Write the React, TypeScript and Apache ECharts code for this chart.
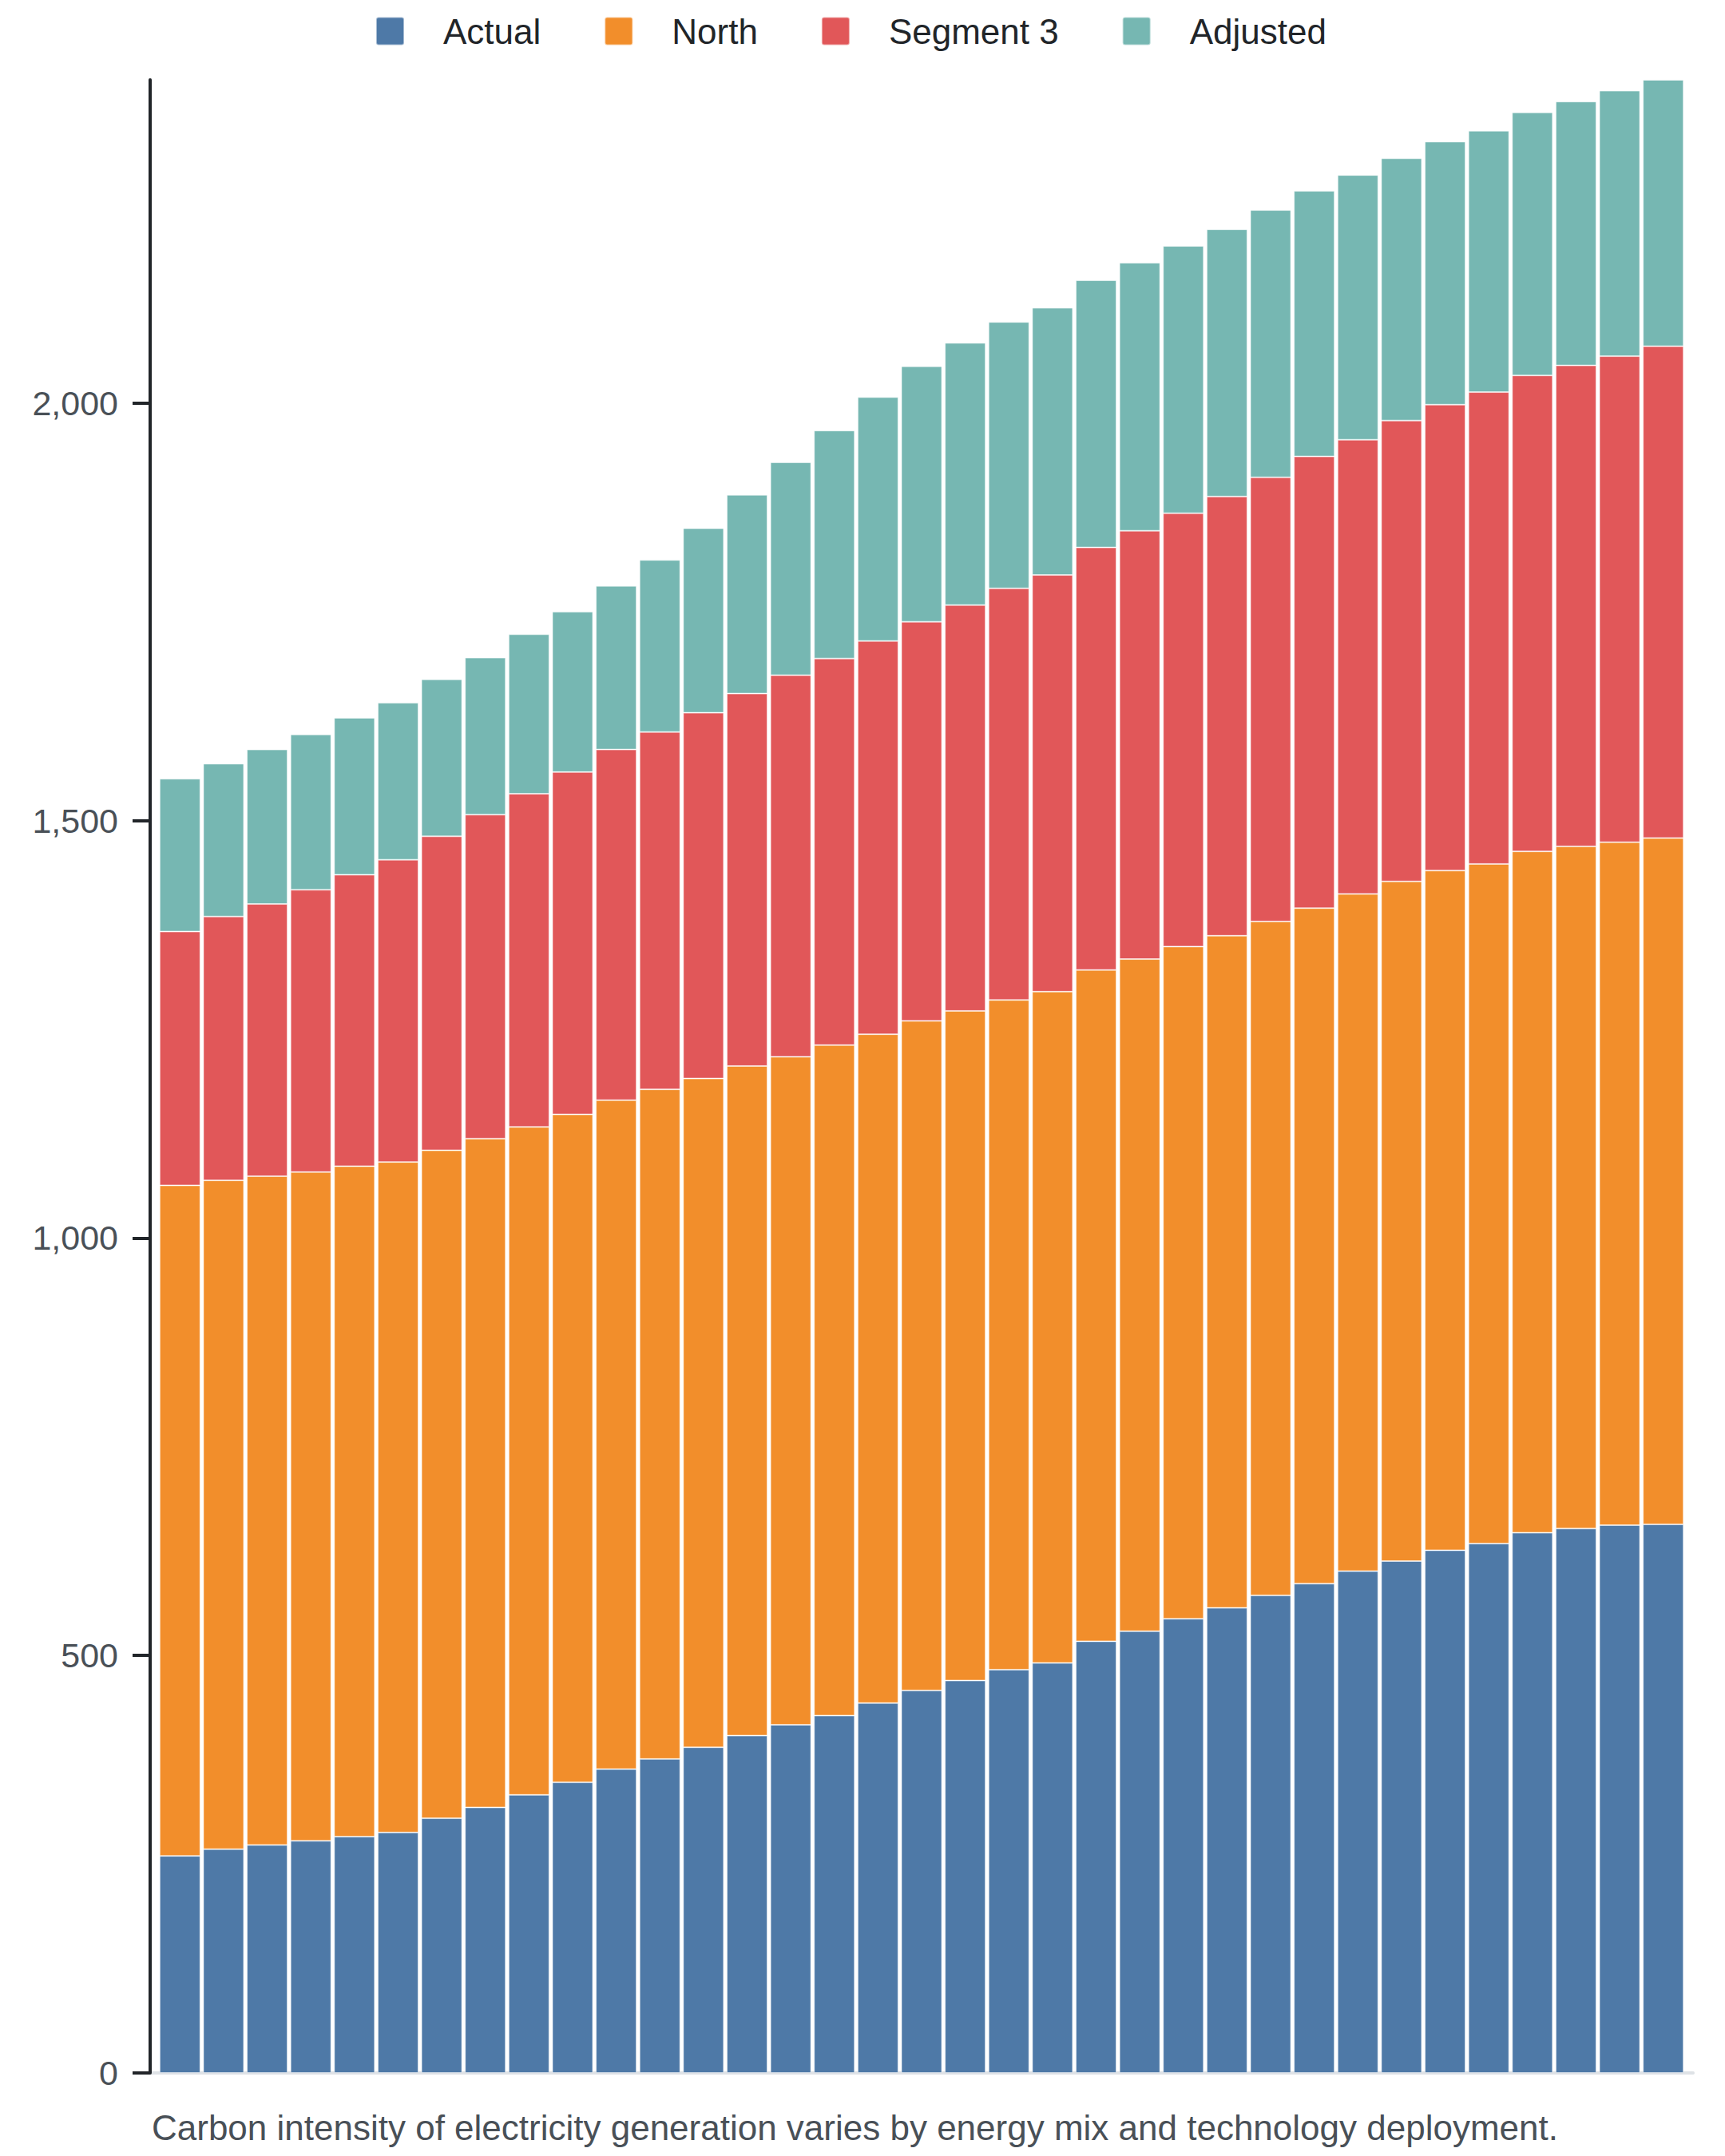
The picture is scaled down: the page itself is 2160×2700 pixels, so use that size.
import React, { useEffect, useRef } from "react";
import * as echarts from "echarts";

const categories: string[] = Array.from({ length: 35 }, (_, i) => `P${i + 1}`);

const actual = [260, 268, 273, 278, 283, 288, 305, 318, 333, 348, 364, 376, 390, 404, 417, 428, 443, 458, 470, 483, 491, 517, 529, 544, 557, 572, 586, 601, 613, 626, 634, 647, 652, 656, 657];
const north = [803, 801, 801, 801, 803, 803, 800, 801, 800, 800, 801, 802, 801, 802, 800, 803, 801, 802, 802, 802, 804, 804, 805, 805, 805, 807, 809, 811, 814, 814, 814, 816, 817, 818, 822];
const segment3 = [304, 316, 326, 338, 349, 362, 376, 388, 399, 410, 420, 428, 438, 446, 457, 463, 471, 478, 486, 493, 499, 506, 513, 519, 526, 532, 541, 544, 552, 558, 565, 570, 576, 582, 589];
const adjusted = [183, 183, 185, 186, 188, 188, 188, 188, 191, 192, 196, 206, 221, 238, 255, 273, 292, 306, 314, 319, 320, 320, 321, 320, 320, 320, 318, 317, 314, 315, 313, 315, 316, 318, 319];

const seriesNames = ["Actual", "North", "Segment 3", "Adjusted"];
const seriesColors = ["#4e79a7", "#f28e2b", "#e15759", "#76b7b2"];
const yTicks = [0, 500, 1000, 1500, 2000];
const caption = "Carbon intensity of electricity generation varies by energy mix and technology deployment.";

const FONT = "'Liberation Sans', Arial, Helvetica, sans-serif";
const ICON = "path://M3,0 H32 Q35,0 35,3 V32 Q35,35 32,35 H3 Q0,35 0,32 V3 Q0,0 3,0 Z";

export default function App() {
  const ref = useRef<HTMLDivElement>(null);
  useEffect(() => {
    document.body.style.margin = "0";
    if (!ref.current) return;
    const chart = echarts.init(ref.current, undefined, { renderer: "svg" });
    const values = [actual, north, segment3, adjusted];
    chart.setOption({
      animation: false,
      textStyle: { fontFamily: FONT },
      title: {
        text: caption,
        left: 185,
        top: 2637,
        textStyle: { fontFamily: FONT, fontSize: 44, fontWeight: "normal", color: "#495057" },
      },
      legend: {
        top: 12,
        left: 465,
        icon: ICON,
        itemWidth: 35,
        itemHeight: 35,
        itemGap: 79,
        textStyle: { fontFamily: FONT, fontSize: 44, color: "#212529", padding: [0, 0, 0, 44] },
        data: seriesNames,
      },
      grid: [
        { left: 198, right: 50, top: 100, bottom: 104, containLabel: false },
        { left: 188, right: 40, top: 100, bottom: 104, containLabel: false },
      ],
      xAxis: [
        {
          type: "category",
          gridIndex: 0,
          data: categories,
          boundaryGap: true,
          axisLine: { show: false },
          axisTick: { show: false },
          axisLabel: { show: false },
          splitLine: { show: false },
        },
        {
          type: "value",
          gridIndex: 1,
          min: 0,
          max: 1,
          z: 1,
          axisLine: { show: true, onZero: false, lineStyle: { color: "#dee2e6", width: 4 } },
          axisTick: { show: false },
          axisLabel: { show: false },
          splitLine: { show: false },
        },
      ],
      yAxis: [
        {
          type: "value",
          gridIndex: 0,
          min: 0,
          max: "dataMax",
          offset: 10,
          z: 5,
          axisLine: { show: true, onZero: false, lineStyle: { color: "#212529", width: 4 } },
          axisTick: { show: true, length: 22, lineStyle: { color: "#212529", width: 4 }, customValues: yTicks },
          axisLabel: {
            margin: 40,
            fontSize: 43,
            color: "#495057",
            fontFamily: FONT,
            customValues: yTicks,
            formatter: (v: number) => v.toLocaleString("en-US"),
          },
          splitLine: { show: false },
        },
        {
          type: "value",
          gridIndex: 1,
          min: 0,
          max: 1,
          show: false,
        },
      ],
      series: seriesNames.map((name, si) => ({
        name,
        type: "bar",
        stack: "total",
        xAxisIndex: 0,
        yAxisIndex: 0,
        barWidth: 51,
        itemStyle: { color: seriesColors[si], borderColor: "rgba(255,255,255,0.5)", borderWidth: 1 },
        data: values[si],
      })),
    });
    return () => chart.dispose();
  }, []);
  return <div ref={ref} style={{ width: 2160, height: 2700, position: "absolute", left: 0, top: 0 }} />;
}
